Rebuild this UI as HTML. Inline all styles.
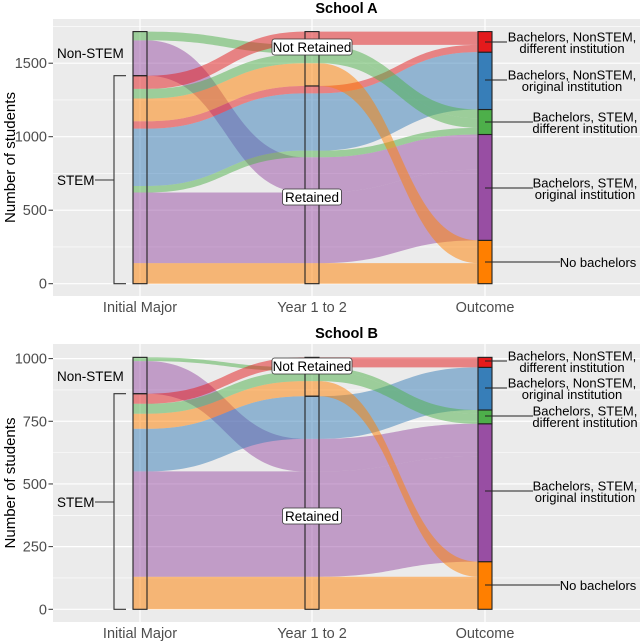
<!DOCTYPE html>
<html><head><meta charset="utf-8">
<style>
html,body{margin:0;padding:0;background:#fff;}
svg{display:block;font-family:"Liberation Sans",Arial,sans-serif;}
</style></head>
<body>
<svg id="chart" width="640" height="641" viewBox="0 0 640 641" xmlns="http://www.w3.org/2000/svg"></svg>
<script>
// ---- data ----
const axisNames = ['Initial Major','Year 1 to 2','Outcome'];
const initialStrata = ['STEM','Non-STEM'];
const yearStrata = ['Retained','Not Retained'];
const outcomeStrata = ['No bachelors','Bachelors, STEM, original institution','Bachelors, STEM, different institution','Bachelors, NonSTEM, original institution','Bachelors, NonSTEM, different institution'];
const outcomeColors = ['#FF7F00','#984EA3','#4DAF4A','#377EB8','#E41A1C'];

const initialA = ['STEM','STEM','Non-STEM','STEM','STEM','STEM','STEM','STEM','Non-STEM','STEM'];
const yearA    = ['Retained','Retained','Retained','Retained','Retained','Retained','Not Retained','Not Retained','Not Retained','Not Retained'];
const outcomeA = [0,1,1,2,3,4,0,2,2,4];
const countA   = [140,480,240,45,390,50,155,65,60,90];

const initialB = ['STEM','STEM','Non-STEM','STEM','STEM','STEM','Non-STEM','STEM'];
const yearB    = ['Retained','Retained','Retained','Retained','Not Retained','Not Retained','Not Retained','Not Retained'];
const outcomeB = [0,1,1,3,0,2,2,4];
const countB   = [130,420,130,170,60,40,15,40];

const ticksA = [0,500,1000,1500];
const minorA = [250,750,1250,1750];
const ticksB = [0,250,500,750,1000];
const minorB = [125,375,625,875];

const NS='http://www.w3.org/2000/svg';
const svg=document.getElementById('chart');
function mk(tag,attrs,parent){const e=document.createElementNS(NS,tag);for(const k in attrs)e.setAttribute(k,attrs[k]);(parent||svg).appendChild(e);return e;}

const XS=[140,312,485], HW=7, PL=53, PR=640;

function drawPanel(p){
  const g=mk('g',{});
  
  
  const y=v=>p.y0-v*p.k;
  let r=mk('rect',{x:PL,y:p.top,width:PR-PL,height:p.bot-p.top,fill:'#EBEBEB'},g);
  
  
  p.minor.forEach(v=>{const yy=y(v);if(yy>p.top&&yy<p.bot){const l=mk('line',{x1:PL,x2:PR,y1:yy,y2:yy,stroke:'#fff','stroke-width':0.6},g);}});
  p.ticks.forEach(v=>{const yy=y(v);const l=mk('line',{x1:PL,x2:PR,y1:yy,y2:yy,stroke:'#fff','stroke-width':1.2},g);
    const t=mk('line',{x1:48.5,x2:PL,y1:yy,y2:yy,stroke:'#333','stroke-width':1},g);
    const tx=mk('text',{x:47,y:yy+5,'text-anchor':'end','font-size':14.5,fill:'#4D4D4D'},g);tx.textContent=v;});
  XS.forEach((x,i)=>{const l=mk('line',{x1:x,x2:x,y1:p.top,y2:p.bot,stroke:'#fff','stroke-width':1.2},g);
    const t=mk('text',{x:x,y:p.bot+16,'text-anchor':'middle','font-size':14.5,fill:'#4D4D4D'},g);t.textContent=axisNames[i];});
  const yt=mk('text',{x:0,y:0,'text-anchor':'middle','font-size':15,fill:'#000',transform:`translate(15,${(p.top+p.bot)/2}) rotate(-90)`},g);
  yt.textContent='Number of students';
  const tt=mk('text',{x:(PL+PR)/2,y:p.top-6,'text-anchor':'middle','font-size':14.5,'font-weight':'bold'},g);
  tt.textContent=p.title;

  const n=p.count.length;
  const idx=[i=>initialStrata.indexOf(p.ini[i]), i=>yearStrata.indexOf(p.yr[i]), i=>p.out[i]];
  const orders=[[0,1,2],[1,2,0],[2,1,0]];
  const pos=[];
  const strataRanges=[];
  for(let a=0;a<3;a++){
    const ids=[...Array(n).keys()].sort((i,j)=>{for(const o of orders[a]){const d=idx[o](i)-idx[o](j);if(d)return d;}return 0;});
    let c=0;pos[a]=[];const sr={};
    ids.forEach(i=>{pos[a][i]=[c,c+p.count[i]];const s=idx[a](i);if(!sr[s])sr[s]=[c,c];c+=p.count[i];sr[s][1]=c;});
    strataRanges[a]=sr;
  }
  for(let i=0;i<n;i++){
    let d='';
    const xl=[XS[0]-HW,XS[0]+HW,XS[1]-HW,XS[1]+HW,XS[2]-HW,XS[2]];
    const top=[pos[0][i][1],pos[0][i][1],pos[1][i][1],pos[1][i][1],pos[2][i][1],pos[2][i][1]];
    const bot=[pos[0][i][0],pos[0][i][0],pos[1][i][0],pos[1][i][0],pos[2][i][0],pos[2][i][0]];
    d+=`M${xl[0]},${y(top[0])}L${xl[1]},${y(top[1])}`;
    let m=(xl[1]+xl[2])/2;d+=`C${m},${y(top[1])} ${m},${y(top[2])} ${xl[2]},${y(top[2])}L${xl[3]},${y(top[3])}`;
    m=(xl[3]+xl[4])/2;d+=`C${m},${y(top[3])} ${m},${y(top[4])} ${xl[4]},${y(top[4])}L${xl[5]},${y(top[5])}`;
    d+=`L${xl[5]},${y(bot[5])}L${xl[4]},${y(bot[4])}`;
    m=(xl[3]+xl[4])/2;d+=`C${m},${y(bot[4])} ${m},${y(bot[3])} ${xl[3]},${y(bot[3])}L${xl[2]},${y(bot[2])}`;
    m=(xl[1]+xl[2])/2;d+=`C${m},${y(bot[2])} ${m},${y(bot[1])} ${xl[1]},${y(bot[1])}L${xl[0]},${y(bot[0])}Z`;
    const pa=mk('path',{d:d,fill:outcomeColors[p.out[i]],'fill-opacity':0.5},g);
    
    
  }
  for(let a=0;a<3;a++){
    for(const s in strataRanges[a]){
      const [lo,hi]=strataRanges[a][s];
      const b=mk('rect',{x:XS[a]-HW,y:y(hi),width:HW*2,height:y(lo)-y(hi),fill:a==2?outcomeColors[s]:'none',stroke:'#222','stroke-width':1.1},g);
      
      
    }
  }
  const stemHi=strataRanges[0][0][1];
  const br=mk('path',{d:`M126,${y(0)}H114V${y(stemHi)}H126M114,${p.stemY}H95`,fill:'none',stroke:'#333','stroke-width':1.1},g);
  
  let t=mk('text',{x:57,y:p.stemY+5,'font-size':13.5},g);t.textContent='STEM';
  t=mk('text',{x:57,y:p.nonY+5,'font-size':13.5},g);t.textContent='Non-STEM';
  [['Not Retained',p.nrY,80],['Retained',p.rY,59]].forEach(([s,yy,w])=>{
    const bx=mk('rect',{x:XS[1]-w/2,y:yy-8,width:w,height:16,rx:2.5,fill:'#fff',stroke:'#333','stroke-width':0.8},g);
    
    const tx=mk('text',{x:XS[1],y:yy+5,'text-anchor':'middle','font-size':13.5},g);tx.textContent=s;
  });
  const lines=[['No bachelors'],['Bachelors, STEM,','original institution'],['Bachelors, STEM,','different institution'],['Bachelors, NonSTEM,','original institution'],['Bachelors, NonSTEM,','different institution']];
  const lineEnd=[560,533,533,507,507];
  const centers=[598,585,585,572,572];
  for(let o=0;o<5;o++){
    const yy=p.outY[o];
    const l=mk('line',{x1:XS[2],x2:lineEnd[o],y1:yy,y2:yy,stroke:'#222','stroke-width':1},g);
    
    const tx=mk('text',{x:0,y:0,'text-anchor':'middle','font-size':13},g);
    
    const L=lines[o];
    L.forEach((s,k)=>{const ts=mk('tspan',{x:centers[o],y:yy+5+(k-(L.length-1)/2)*11.5},tx);ts.textContent=s;});
  }
}

drawPanel({name:'school-a-panel',title:'School A',top:19,bot:296,y0:283.7,k:0.147,ticks:ticksA,minor:minorA,
  ini:initialA,yr:yearA,out:outcomeA,count:countA,stemY:180,nonY:53,nrY:47,rY:197,outY:[262,188,122,80,42]});
drawPanel({name:'school-b-panel',title:'School B',top:344,bot:622,y0:609.3,k:0.2507,ticks:ticksB,minor:minorB,
  ini:initialB,yr:yearB,out:outcomeB,count:countB,stemY:502,nonY:376,nrY:366,rY:516,outY:[585,491,416,388,361]});
</script>
</body></html>
